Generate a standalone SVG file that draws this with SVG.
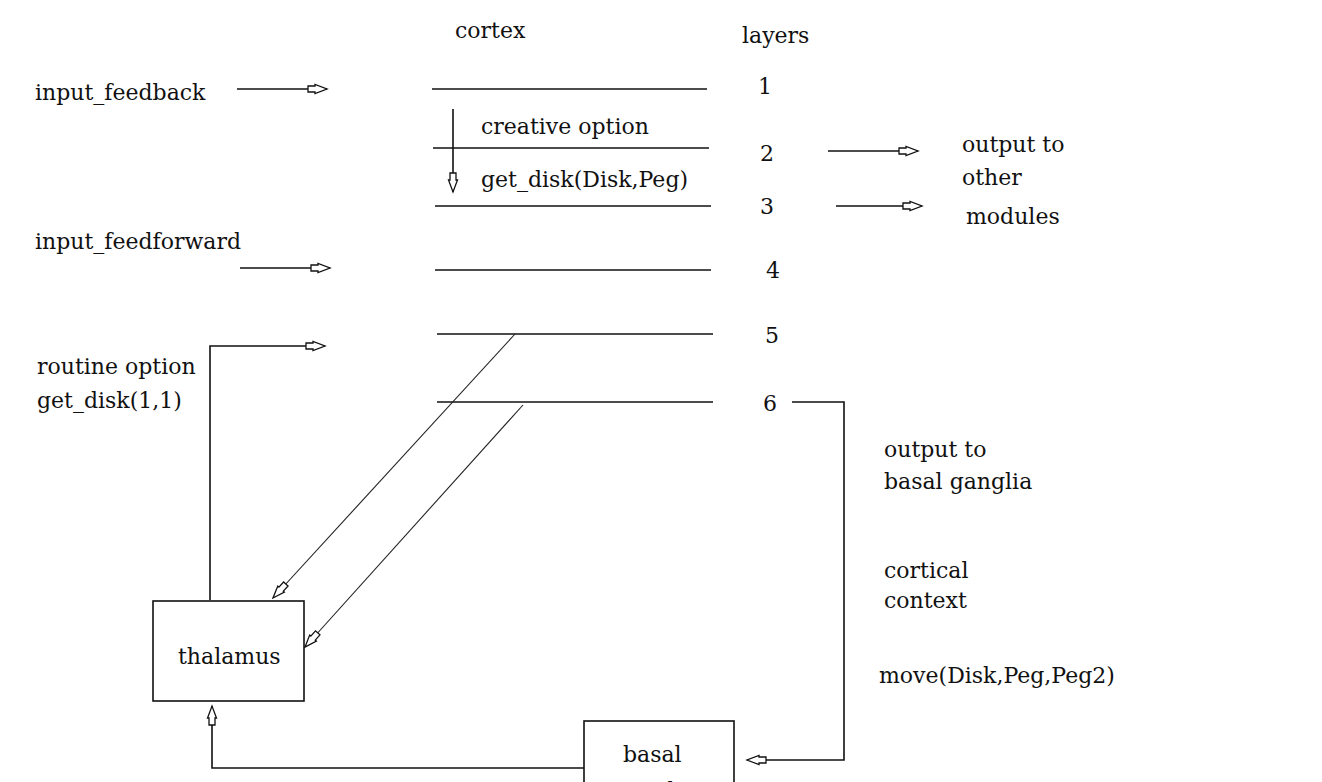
<svg xmlns="http://www.w3.org/2000/svg" width="1322" height="782" viewBox="0 0 1322 782">
  <style>
    text { font-family: "DejaVu Serif", "Liberation Serif", serif; font-size: 22px; fill: #111; }
    .ln { stroke: #111; stroke-width: 1.6; fill: none; }
    .thin { stroke: #222; stroke-width: 1.1; fill: none; }
    .box { stroke: #111; stroke-width: 1.6; fill: #fff; }
    .arr { marker-end: url(#ah); }
  </style>
  <defs>
    <marker id="ah" markerUnits="userSpaceOnUse" viewBox="-22 -6 24 12" refX="0" refY="0" markerWidth="24" markerHeight="12" orient="auto">
      <path d="M-19,-3 H-12 V-4.5 L0,0 L-12,4.5 V3 H-19 Z" fill="#fff" stroke="#111" stroke-width="1.3"/>
    </marker>
  </defs>
  <rect width="1322" height="782" fill="#fff"/>

  <g id="cortex">
    <text x="455" y="38">cortex</text>
    <text x="742" y="43">layers</text>
    <line class="ln" x1="432" y1="89" x2="707" y2="89"/>
    <line class="ln" x1="433" y1="148" x2="709" y2="148"/>
    <line class="ln" x1="435" y1="206" x2="711" y2="206"/>
    <line class="ln" x1="435" y1="270" x2="711" y2="270"/>
    <line class="ln" x1="437" y1="334" x2="713" y2="334"/>
    <line class="ln" x1="437" y1="402" x2="713" y2="402"/>
    <text x="758" y="94">1</text>
    <text x="760" y="161">2</text>
    <text x="760" y="214">3</text>
    <text x="766" y="278">4</text>
    <text x="765" y="343">5</text>
    <text x="763" y="411">6</text>
    <text x="481" y="134">creative option</text>
    <text x="481" y="187">get_disk(Disk,Peg)</text>
  </g>

  <g id="inputs">
    <text x="35" y="100">input_feedback</text>
    <text x="35" y="249">input_feedforward</text>
    <text x="37" y="374">routine option</text>
    <text x="37" y="408">get_disk(1,1)</text>
  </g>

  <g id="outputs">
    <text x="962" y="152">output to</text>
    <text x="962" y="185">other</text>
    <text x="966" y="224">modules</text>
    <text x="884" y="457">output to</text>
    <text x="884" y="489">basal ganglia</text>
    <text x="884" y="578">cortical</text>
    <text x="884" y="608">context</text>
    <text x="879" y="683">move(Disk,Peg,Peg2)</text>
  </g>

  <g id="thalamus">
    <rect class="box" x="153" y="601" width="151" height="100"/>
    <text x="178" y="664">thalamus</text>
  </g>

  <g id="basal-ganglia">
    <rect class="box" x="584" y="721" width="150" height="90"/>
    <text x="623" y="762">basal</text>
    <text x="612" y="798">ganglia</text>
  </g>

  <g id="connectors">
    <line class="ln arr" x1="237" y1="89" x2="327" y2="89"/>
    <line class="ln arr" x1="240" y1="268" x2="330" y2="268"/>
    <polyline class="ln arr" points="210,600 210,346 325,346"/>
    <line class="ln arr" x1="453" y1="109" x2="453" y2="192"/>
    <line class="ln arr" x1="828" y1="151" x2="918" y2="151"/>
    <line class="ln arr" x1="836" y1="206" x2="922" y2="206"/>
    <line class="thin arr" x1="515" y1="334" x2="273" y2="598"/>
    <line class="thin arr" x1="523" y1="405" x2="305" y2="647"/>
    <polyline class="ln arr" points="792,402 844,402 844,760 747,760"/>
    <polyline class="ln arr" points="584,768 212,768 212,706"/>
  </g>
</svg>
